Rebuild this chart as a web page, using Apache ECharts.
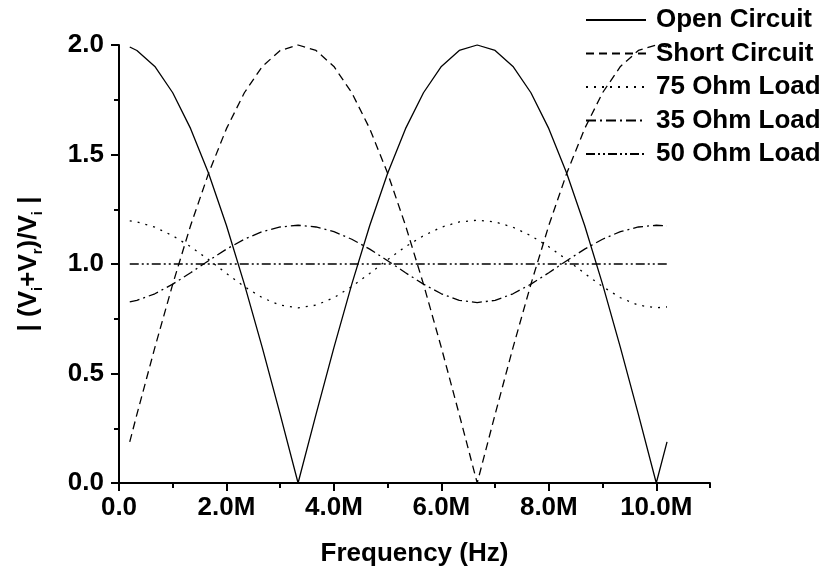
<!DOCTYPE html>
<html><head><meta charset="utf-8">
<script src="https://cdn.jsdelivr.net/npm/echarts@6/dist/echarts.min.js"></script>
<style>html,body{margin:0;padding:0;background:#fff}#c{width:828px;height:572px}</style>
</head><body><div id="c"></div>
<script>
// Frequency in MHz
const freqMHz = [0.2,0.333,0.667,1.0,1.333,1.667,2.0,2.333,2.667,3.0,3.333,3.667,4.0,4.333,4.667,5.0,5.333,5.667,6.0,6.333,6.667,7.0,7.333,7.667,8.0,8.333,8.667,9.0,9.333,9.667,10.0,10.2];
const openCircuit = [1.991,1.975,1.902,1.782,1.618,1.414,1.176,0.908,0.618,0.313,0,0.313,0.618,0.908,1.176,1.414,1.618,1.782,1.902,1.975,2.0,1.975,1.902,1.782,1.618,1.414,1.176,0.908,0.618,0.313,0,0.188];
const shortCircuit = [0.188,0.313,0.618,0.908,1.176,1.414,1.618,1.782,1.902,1.975,2.0,1.975,1.902,1.782,1.618,1.414,1.176,0.908,0.618,0.313,0,0.313,0.618,0.908,1.176,1.414,1.618,1.782,1.902,1.975,2.0,1.991];
const load75 = [1.197,1.192,1.168,1.129,1.079,1.020,0.957,0.897,0.846,0.812,0.800,0.812,0.846,0.897,0.957,1.020,1.079,1.129,1.168,1.192,1.200,1.192,1.168,1.129,1.079,1.020,0.957,0.897,0.846,0.812,0.800,0.804];
const load35 = [0.827,0.834,0.864,0.908,0.960,1.015,1.068,1.113,1.148,1.169,1.177,1.169,1.148,1.113,1.068,1.015,0.960,0.908,0.864,0.834,0.824,0.834,0.864,0.908,0.960,1.015,1.068,1.113,1.148,1.169,1.177,1.174];
const load50 = [1,1,1,1,1,1,1,1,1,1,1,1,1,1,1,1,1,1,1,1,1,1,1,1,1,1,1,1,1,1,1,1];
const seriesNames = ['Open Circuit','Short Circuit','75 Ohm Load','35 Ohm Load','50 Ohm Load'];
const xMajorTicks = [0,2,4,6,8,10];
const xMinorTicks = [1,3,5,7,9,11];

const FONT = '"Liberation Sans", Arial, sans-serif';
const chart = echarts.init(document.getElementById('c'), null, {renderer:'canvas'});
function pairs(v){ return freqMHz.map((f,i)=>[f,v[i]]); }
const dashTypes = ['solid',[8,5],[2,6],[10,4,2,4],[9,3,2,3,2,3]];
const dataSets = [openCircuit, shortCircuit, load75, load35, load50];
const series = seriesNames.map((n,i)=>({
  name:n, type:'line', data:pairs(dataSets[i]), symbol:'none', showSymbol:false,
  clip:false, silent:true,
  lineStyle:{color:'#000', width:1.3, type:dashTypes[i]},
  itemStyle:{color:'#000'}
}));
const axisLineStyle = {color:'#000', width:2};
const labelStyle = {fontFamily:FONT, fontSize:26, fontWeight:'bold', color:'#000'};
const option = {
  animation:false,
  backgroundColor:'#fff',
  grid:{left:119, right:118, top:45, bottom:89, containLabel:false},
  legend:{
    orient:'vertical', left:580, top:2, itemWidth:60, itemHeight:14, itemGap:7.5,
    data:seriesNames, selectedMode:false,
    itemStyle:{opacity:0, borderWidth:0},
    textStyle:Object.assign({lineHeight:26, padding:[0,0,0,5]}, labelStyle)
  },
  xAxis:[{
    type:'value', min:0, max:11, interval:2, position:'bottom',
    name:'Frequency (Hz)', nameLocation:'middle', nameGap:58,
    nameTextStyle:labelStyle,
    axisLine:{show:true, onZero:false, lineStyle:axisLineStyle},
    axisTick:{show:true, length:8, lineStyle:axisLineStyle, customValues:xMajorTicks},
    axisLabel:Object.assign({margin:12, customValues:xMajorTicks,
      formatter:v=> v===0 ? '0.0' : (v>10.5 ? '' : v.toFixed(1)+'M')}, labelStyle),
    splitLine:{show:false}
  },{
    type:'value', min:0, max:11, interval:1, position:'bottom',
    axisLine:{show:false},
    axisTick:{show:true, length:5, lineStyle:axisLineStyle, customValues:xMinorTicks},
    axisLabel:{show:false}, splitLine:{show:false}
  }],
  yAxis:{
    type:'value', min:0, max:2, interval:0.5,
    name:'| (V{s|i}+V{s|r})/V{s|i} |', nameLocation:'middle', nameGap:74, nameRotate:90,
    nameTextStyle:Object.assign({rich:{s:{fontFamily:FONT, fontSize:15, fontWeight:'bold', color:'#000', padding:[18,0,0,0]}}}, labelStyle),
    axisLine:{show:true, onZero:false, lineStyle:axisLineStyle},
    axisTick:{show:true, length:8, lineStyle:axisLineStyle},
    minorTick:{show:true, splitNumber:2, length:5, lineStyle:axisLineStyle},
    axisLabel:Object.assign({margin:15, formatter:v=>v.toFixed(1)}, labelStyle),
    splitLine:{show:false}, minorSplitLine:{show:false}
  },
  series:series
};
chart.setOption(option);
</script></body></html>
